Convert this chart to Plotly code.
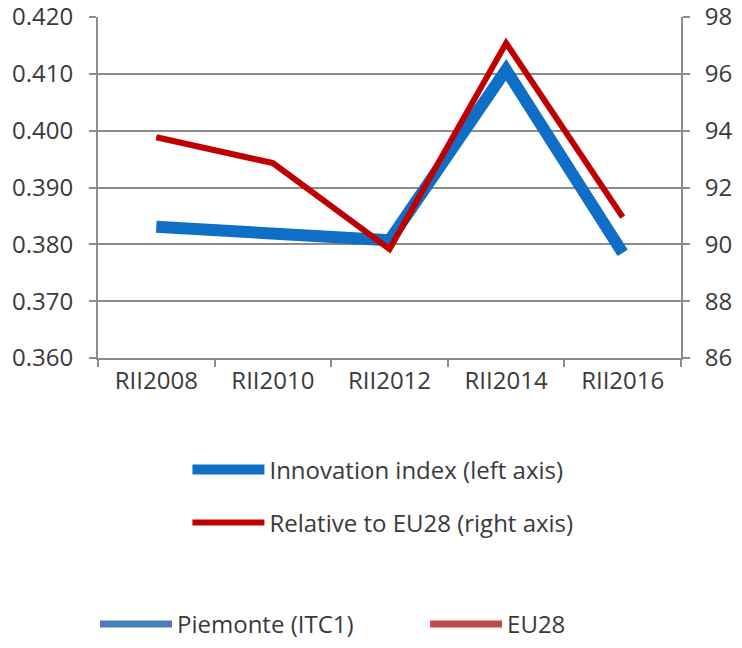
import plotly.graph_objects as go

categories = ["RII2008", "RII2010", "RII2012", "RII2014", "RII2016"]
innovation_index = [0.3831, 0.3820, 0.3807, 0.4107, 0.3785]
relative_eu28 = [93.77, 92.86, 89.83, 97.08, 90.96]
left_ticks = [0.360, 0.370, 0.380, 0.390, 0.400, 0.410, 0.420]
right_ticks = [86, 88, 90, 92, 94, 96, 98]

FONT = "Open Sans"
GRID = "#8c8c8c"
TXT = "#3a3a3a"

fig = go.Figure()
fig.add_trace(go.Scatter(
    x=categories, y=innovation_index, mode="lines", name="Innovation index (left axis)",
    line=dict(color="#0F6FC6", width=12), yaxis="y", legend="legend", showlegend=True))
fig.add_trace(go.Scatter(
    x=categories, y=relative_eu28, mode="lines", name="Relative to EU28 (right axis)",
    line=dict(color="#C00000", width=6), yaxis="y2", legend="legend2", showlegend=True))
fig.add_trace(go.Scatter(
    x=[None], y=[None], mode="lines", name="Piemonte (ITC1)",
    line=dict(color="#4A7EBB", width=7), legend="legend3", showlegend=True))
fig.add_trace(go.Scatter(
    x=[None], y=[None], mode="lines", name="EU28",
    line=dict(color="#BE4B48", width=7), legend="legend4", showlegend=True))

leg = dict(font=dict(family=FONT, size=24, color=TXT), bgcolor="rgba(0,0,0,0)",
           itemwidth=72, xanchor="left", yanchor="middle", orientation="h", visible=True)

# the page body has an 8px margin on every side, so the figure is 16px smaller on each axis
fig.update_layout(
    width=726, height=632,
    showlegend=True,
    margin=dict(l=90, r=53, t=9, b=282, autoexpand=False),
    paper_bgcolor="white", plot_bgcolor="white",
    font=dict(family=FONT, color=TXT),
    xaxis=dict(
        type="category", tickson="boundaries", ticks="outside", ticklen=7,
        tickcolor=GRID, tickwidth=2, showline=True, linecolor=GRID, linewidth=2,
        showgrid=False, tickfont=dict(size=24, family=FONT, color=TXT),
        range=[-0.5, 4.5], fixedrange=True, automargin=False),
    yaxis=dict(
        range=[0.360, 0.420], tickvals=left_ticks, ticktext=[f"{v:.3f}" for v in left_ticks],
        showgrid=True, gridcolor=GRID, gridwidth=2, showline=True, linecolor=GRID,
        linewidth=2, ticks="outside", ticklen=7, tickcolor=GRID, tickwidth=2,
        ticklabelstandoff=11, ticklabeloverflow="allow",
        tickfont=dict(size=24, family=FONT, color=TXT), zeroline=False, automargin=False),
    yaxis2=dict(
        range=[86, 98], tickvals=right_ticks, overlaying="y", side="right",
        showgrid=False, showline=True, linecolor=GRID, linewidth=2,
        ticks="outside", ticklen=7, tickcolor=GRID, tickwidth=2,
        ticklabelstandoff=10, ticklabeloverflow="allow",
        tickfont=dict(size=24, family=FONT, color=TXT), zeroline=False, automargin=False),
    legend=dict(leg, x=0.1534, y=-0.3285),
    legend2=dict(leg, x=0.1534, y=-0.4838),
    legend3=dict(leg, x=-0.0051, y=-0.781),
    legend4=dict(leg, x=0.561, y=-0.781),
)

fig.write_html("out.html")
